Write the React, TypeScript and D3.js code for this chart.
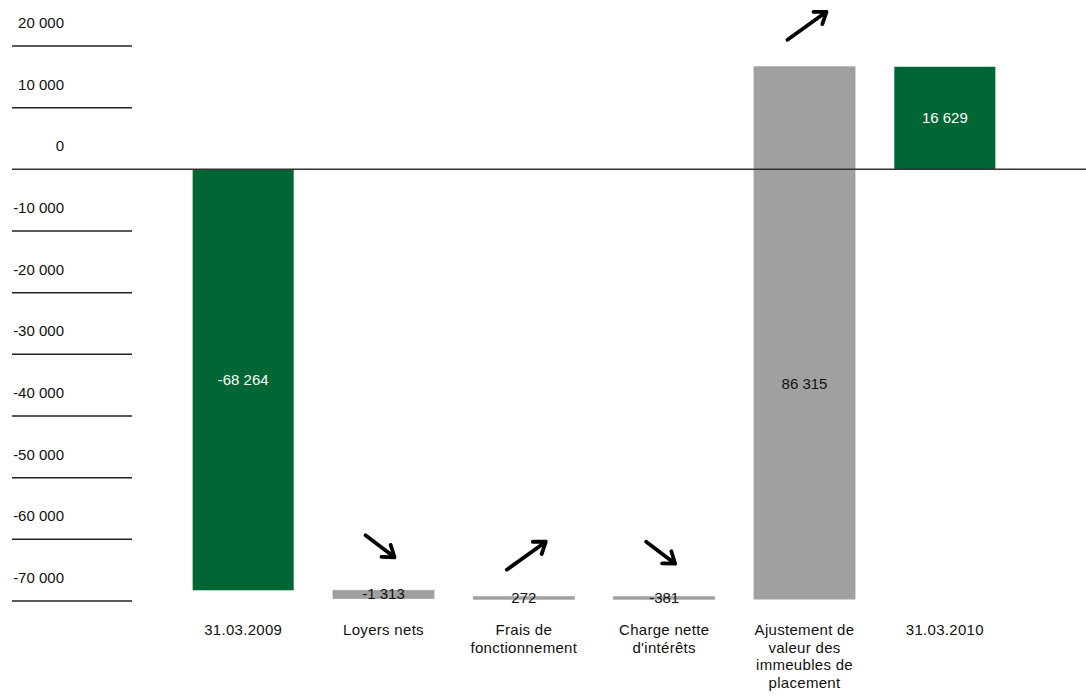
import React from "react";
import * as d3 from "d3";

const categories: string[][] = [
  ["31.03.2009"],
  ["Loyers nets"],
  ["Frais de", "fonctionnement"],
  ["Charge nette", "d'intérêts"],
  ["Ajustement de", "valeur des", "immeubles de", "placement"],
  ["31.03.2010"],
];
const values: number[] = [-68264, -1313, 272, -381, 86315, 16629];
const kinds: string[] = ["total", "delta", "delta", "delta", "delta", "total"];
const valueLabels: string[] = ["-68 264", "-1 313", "272", "-381", "86 315", "16 629"];
const arrows: (string | null)[] = [null, "down", "up", "down", "up", null];
const yTicks: number[] = [20000, 10000, 0, -10000, -20000, -30000, -40000, -50000, -60000, -70000];
const yTickLabels: string[] = ["20 000", "10 000", "0", "-10 000", "-20 000", "-30 000", "-40 000", "-50 000", "-60 000", "-70 000"];

const W = 1086;
const H = 696;
const GREEN = "#006633";
const GRAY = "#a0a0a0";
const FONT = "'Liberation Sans', Arial, sans-serif";

export default function App() {
  const y = d3.scaleLinear().domain([-70000, 20000]).range([601, 46]);
  const keys = categories.map((_, i) => String(i));
  const x = d3.scaleBand().domain(keys).range([173, 1015]).paddingInner(0.28).paddingOuter(0.14);

  // waterfall bars
  let running = 0;
  const bars = values.map((v, i) => {
    let start: number, end: number;
    if (kinds[i] === "total") {
      start = 0;
      end = v;
      running = v;
    } else {
      start = running;
      end = running + v;
      running = end;
    }
    const hi = Math.max(start, end);
    const lo = Math.min(start, end);
    // label sits in the larger segment when a bar crosses zero
    let labHi = hi;
    let labLo = lo;
    if (hi > 0 && lo < 0) {
      if (-lo > hi) labHi = 0;
      else labLo = 0;
    }
    return {
      i,
      x: x(String(i)) as number,
      top: y(hi),
      bottom: y(lo),
      labY: (y(labHi) + y(labLo)) / 2,
      kind: kinds[i],
    };
  });

  const bw = x.bandwidth();

  const arrowPath = (c: number, top: number, dir: string) => {
    let tx: number, ty: number, hx: number, hy: number;
    if (dir === "down") {
      tx = c - 18; ty = top - 55; hx = c + 11; hy = top - 33;
    } else {
      tx = c - 17; ty = top - 27; hx = c + 22; hy = top - 55;
    }
    const ang = Math.atan2(hy - ty, hx - tx);
    const L = 13;
    const a1 = ang + Math.PI - 0.62;
    const a2 = ang + Math.PI + 0.62;
    return `M${tx},${ty}L${hx},${hy}M${hx + L * Math.cos(a1)},${hy + L * Math.sin(a1)}L${hx},${hy}L${hx + L * Math.cos(a2)},${hy + L * Math.sin(a2)}`;
  };

  return (
    <svg width={W} height={H} style={{ position: "absolute", left: 0, top: 0, background: "#fff" }} fontFamily={FONT}>
      <rect x={0} y={0} width={W} height={H} fill="#fff" />
      {/* y axis ticks */}
      {yTicks.map((t, i) => (
        <g key={t}>
          {t !== 0 && (
            <line x1={12} x2={132} y1={y(t)} y2={y(t)} stroke="#222" strokeWidth={1.5} />
          )}
          <text x={64} y={y(t) - 18} textAnchor="end" fontSize={15} fill="#111">
            {yTickLabels[i]}
          </text>
        </g>
      ))}
      {/* bars */}
      {bars.map((b) => (
        <rect
          key={b.i}
          x={b.x}
          y={b.top}
          width={bw}
          height={Math.max(2.5, b.bottom - b.top)}
          fill={b.kind === "total" ? GREEN : GRAY}
          stroke={b.kind === "total" ? "none" : GRAY}
          strokeWidth={0.8}
        />
      ))}
      {/* zero line */}
      <line x1={12} x2={W} y1={y(0)} y2={y(0)} stroke="#333" strokeWidth={1.5} />
      {/* value labels */}
      {bars.map((b) => (
        <text
          key={"v" + b.i}
          x={b.x + bw / 2}
          y={b.labY + 5}
          textAnchor="middle"
          fontSize={15}
          fill={b.kind === "total" ? "#fff" : "#111"}
        >
          {valueLabels[b.i]}
        </text>
      ))}
      {/* arrows */}
      {bars.map((b) =>
        arrows[b.i] ? (
          <path
            key={"a" + b.i}
            d={arrowPath(b.x + bw / 2, b.top, arrows[b.i] as string)}
            fill="none"
            stroke="#000"
            strokeWidth={3.8}
            strokeLinecap="round"
            strokeLinejoin="round"
          />
        ) : null
      )}
      {/* category labels */}
      {categories.map((lines, i) => (
        <text key={"c" + i} x={(x(String(i)) as number) + bw / 2} y={635} textAnchor="middle" fontSize={15} fill="#111" letterSpacing={0.3}>
          {lines.map((ln, j) => (
            <tspan key={j} x={(x(String(i)) as number) + bw / 2} dy={j === 0 ? 0 : 17.7}>
              {ln}
            </tspan>
          ))}
        </text>
      ))}
    </svg>
  );
}
